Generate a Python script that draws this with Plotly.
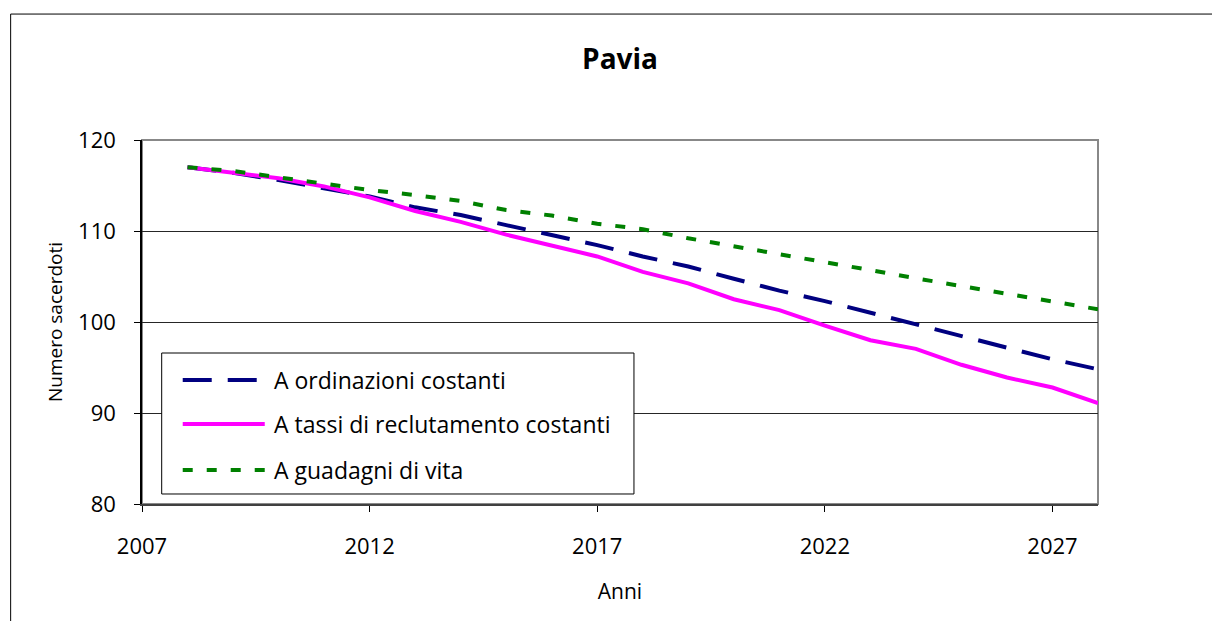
import plotly.graph_objects as go

# anni di proiezione
anni = list(range(2008, 2029))

# scenari (numero sacerdoti)
ordinazioni_costanti = [117.0, 116.4, 115.6, 114.7, 113.8, 112.6, 111.75, 110.65, 109.55, 108.45,
                        107.2, 106.1, 104.75, 103.45, 102.3, 101.0, 99.7, 98.4, 97.2, 95.9, 94.8]
reclutamento_costante = [117.0, 116.45, 115.8, 114.9, 113.7, 112.2, 111.0, 109.6, 108.35, 107.2,
                         105.5, 104.25, 102.5, 101.3, 99.6, 98.0, 97.05, 95.3, 93.9, 92.8, 91.1]
guadagni_vita = [117.0, 116.6, 115.9, 115.2, 114.5, 113.95, 113.3, 112.3, 111.7, 110.8,
                 110.2, 109.2, 108.35, 107.5, 106.55, 105.7, 104.8, 103.95, 103.1, 102.2, 101.4]

nomi = ["A ordinazioni costanti", "A tassi di reclutamento costanti", "A guadagni di vita"]
colori = ["#000080", "#FF00FF", "#008000"]
tratti = ["29px,16px", "solid", "10px,14px"]

FONT = "Open Sans"

fig = go.Figure()
for nome, serie, col, dash in zip(nomi, [ordinazioni_costanti, reclutamento_costante, guadagni_vita],
                                  colori, tratti):
    fig.add_trace(go.Scatter(x=anni, y=serie, mode="lines", name=nome, showlegend=False,
                             line=dict(color=col, width=4, dash=dash)))

# legenda disegnata a mano (campioni di linea lunghi come in Excel)
shapes = [
    # bordo area del grafico
    dict(type="rect", xref="paper", yref="paper", x0=0, x1=1, y0=0, y1=1,
         line=dict(color="#888888", width=2), layer="below"),
    # bordo esterno
    dict(type="rect", xref="paper", yref="paper", x0=-0.1374, x1=1.3, y0=-0.6, y1=1.346,
         line=dict(color="black", width=1)),
    # riquadro legenda
    dict(type="rect", xref="paper", yref="paper", x0=0.0206, x1=0.5146, y0=0.0275, y1=0.4148,
         line=dict(color="black", width=1), fillcolor="white"),
]
annotations = []
righe_y = [0.3407, 0.2198, 0.0934]
for nome, col, dash, yy in zip(nomi, colori, tratti, righe_y):
    shapes.append(dict(type="line", xref="paper", yref="paper", x0=0.0426, x1=0.1284,
                       y0=yy, y1=yy, line=dict(color=col, width=4, dash=dash)))
    annotations.append(dict(text=nome, xref="paper", yref="paper", x=0.1357, y=yy,
                            xanchor="left", yanchor="middle", showarrow=False,
                            font=dict(family=FONT, size=23, color="black")))

fig.update_layout(
    width=1220, height=621,
    margin=dict(l=134, r=130, t=132, b=125),
    paper_bgcolor="white", plot_bgcolor="white",
    font=dict(family=FONT, size=22, color="black"),
    title=dict(text="<b>Pavia</b>", xref="paper", x=0.5, xanchor="center", y=0.918, yanchor="middle",
               font=dict(family=FONT, size=28, color="black")),
    shapes=shapes,
    annotations=annotations,
)

fig.update_xaxes(range=[2007, 2028], tick0=2007, dtick=5, showgrid=False,
                 showline=True, linecolor="#404040", linewidth=2,
                 ticks="outside", ticklen=6, tickcolor="black",
                 ticklabelstandoff=16, zeroline=False, tickfont=dict(size=22),
                 title=dict(text="Anni", standoff=25, font=dict(size=21)))
fig.update_yaxes(range=[80, 120], tick0=80, dtick=10, showgrid=True,
                 gridcolor="#262626", gridwidth=1,
                 showline=True, linecolor="black", linewidth=1.5,
                 ticks="outside", ticklen=6, tickcolor="black",
                 ticklabelstandoff=14, zeroline=False, tickfont=dict(size=22),
                 title=dict(text="Numero sacerdoti", standoff=10, font=dict(size=19)))

fig.write_html("out.html")
